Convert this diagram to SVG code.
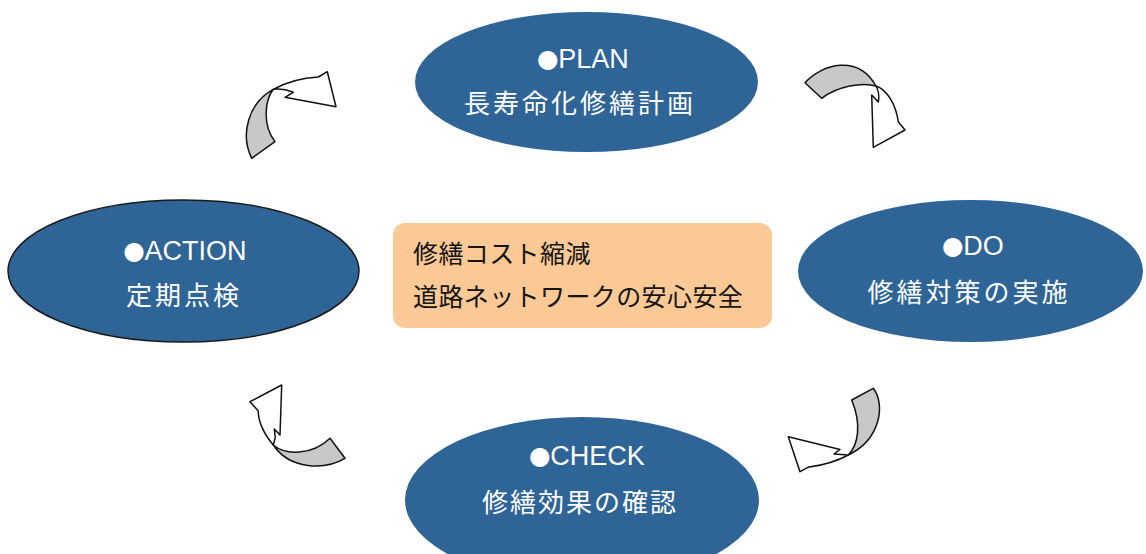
<svg xmlns="http://www.w3.org/2000/svg" width="1146" height="554" viewBox="0 0 1146 554">
  <style>
    .node { fill: #2F6497; }
    .head { font-family: "Liberation Sans", "Noto Sans CJK JP", sans-serif; font-size: 27px; fill: #ffffff; text-anchor: middle; }
    .dot { font-family: "Noto Sans CJK JP", sans-serif; font-size: 21px; }
    .jp { font-family: "Noto Sans CJK JP", sans-serif; font-size: 26px; fill: #ffffff; text-anchor: middle; letter-spacing: 3px; }
    .center { font-family: "Noto Sans CJK JP", sans-serif; font-size: 25px; fill: #141414; letter-spacing: 0.4px; }
    .back { fill: #c8c8c8; stroke: #111111; stroke-width: 1.5; stroke-linejoin: round; }
    .front { fill: #ffffff; stroke: #111111; stroke-width: 1.5; stroke-linejoin: round; }
  </style>
  <rect x="0" y="0" width="1146" height="554" fill="#ffffff"/>

  <g id="node-plan">
    <ellipse class="node" cx="586.5" cy="82" rx="171.5" ry="70"/>
    <text class="head" x="583" y="68"><tspan class="dot">●</tspan>PLAN</text>
    <text class="jp" x="580" y="113">長寿命化修繕計画</text>
  </g>

  <g id="node-do">
    <ellipse class="node" cx="970.5" cy="271" rx="172.5" ry="71"/>
    <text class="head" x="973" y="255"><tspan class="dot">●</tspan>DO</text>
    <text class="jp" x="969" y="302">修繕対策の実施</text>
  </g>

  <g id="node-check">
    <ellipse class="node" cx="582" cy="500" rx="177" ry="83"/>
    <text class="head" x="587" y="465"><tspan class="dot">●</tspan>CHECK</text>
    <text class="jp" x="580" y="512" style="letter-spacing:2px">修繕効果の確認</text>
  </g>

  <g id="node-action">
    <ellipse class="node" cx="183.5" cy="271" rx="175.5" ry="71" stroke="#1a1a1a" stroke-width="1.5"/>
    <text class="head" x="185" y="260"><tspan class="dot">●</tspan>ACTION</text>
    <text class="jp" x="184" y="305">定期点検</text>
  </g>

  <g id="node-center">
    <rect x="393" y="223" width="379" height="105" rx="12" ry="12" fill="#FAC995"/>
    <text class="center" x="413" y="263">修繕コスト縮減</text>
    <text class="center" x="413" y="306">道路ネットワークの安心安全</text>
  </g>

  <g id="connectors">
    <g id="arrow-action-plan">
      <path class="back" d="M251.7,158.3 C240,135 248,103 273.3,89.3 C265,100 262,125 275,141.7 Z"/>
      <path class="front" d="M273.3,89.3 C283,84 300,78 318.3,77 L327.3,71.7 L336,106.7 L285,97.3 L293.3,92.3 Q283,88 273.3,89.3 Z"/>
    </g>
    <g id="arrow-plan-do">
      <path class="back" d="M805,82.7 C822,64 858,54 876,86 C862,82 838,86 821.7,98.3 Z"/>
      <path class="front" d="M876,86 C888,90 896,106 898.3,121.7 L905,130 L873.3,147.3 L871.7,95 L878.3,102 Q880,93 876,86 Z"/>
    </g>
    <g id="arrow-do-check">
      <path class="back" d="M873.3,388.3 C886,405 880,440 848.3,455 C858,445 862,425 851.7,400 Z"/>
      <path class="front" d="M848.3,455 L834,454 L840,449.5 L788.3,436.7 L800,471.7 L808,467.3 Q832,464 848.3,455 Z"/>
    </g>
    <g id="arrow-check-action">
      <path class="back" d="M330,438.3 L345,458.3 C325,470 290,470 273.3,445 C285,455 312,456 330,438.3 Z"/>
      <path class="front" d="M273.3,445 C263,433 258,420 258.3,410.9 L250,401.7 L281.7,385 L280,435 L274.3,429 L275.3,437.5 Z"/>
    </g>
  </g>
</svg>
